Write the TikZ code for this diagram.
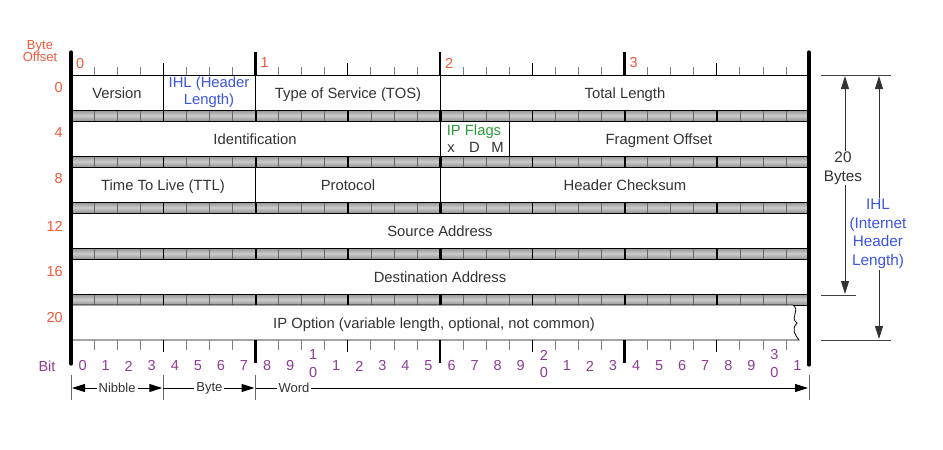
\documentclass[tikz,border=0pt]{standalone}
\usepackage{fontspec}
\setmainfont{Liberation Sans}
\usetikzlibrary{arrows.meta}
\definecolor{offc}{HTML}{EE5A3C}
\definecolor{ihlc}{HTML}{3C55E0}
\definecolor{bitc}{HTML}{8E3C96}
\definecolor{flagc}{HTML}{2E9B3A}
\definecolor{txtc}{HTML}{333333}
\begin{document}
\begin{tikzpicture}[x=1pt,y=-1pt,
  field/.style={font=\fontsize{14.8}{17}\selectfont, text=txtc, align=center, inner sep=0pt},
  bfield/.style={field, anchor=base},
  offlab/.style={font=\fontsize{14.5}{16}\selectfont, text=offc, inner sep=0pt},
  bitlab/.style={font=\fontsize{14.5}{15}\selectfont, text=bitc, inner sep=0pt},
  dimlab/.style={font=\fontsize{13}{14}\selectfont, text=txtc, fill=white, inner sep=2pt},
  sidelab/.style={font=\fontsize{15.3}{18.5}\selectfont, align=center, fill=white, inner sep=1pt},
  rowbox/.style={draw=black, line width=0.8pt, fill=white},
  divline/.style={draw=black, line width=1pt},
  border/.style={draw=black, line width=3.2pt, line cap=round},
  endarrow/.style={-{Stealth[length=13pt,width=8pt,inset=0pt]}},
  botharrow/.style={{Stealth[length=13pt,width=8pt,inset=0pt]}-{Stealth[length=13pt,width=8pt,inset=0pt]}},
  sideline/.style={draw=black!75, line width=1pt}
]
\useasboundingbox (0,0) rectangle (943,450);
\fill[white] (0,0) rectangle (943,450);
\def\W{23.0625}
% bands
\foreach \k in {0,...,4} {
  \pgfmathsetmacro\yt{110+46*\k}
  \shade[top color=gray!85, bottom color=gray!85, middle color=gray!40] (71,\yt) rectangle (809,\yt+11);
  \draw[black, line width=0.7pt] (71,\yt) -- (809,\yt) (71,\yt+11) -- (809,\yt+11);
  \foreach \b in {1,...,31} {
    \pgfmathtruncatemacro\mf{mod(\b,4)}
    \pgfmathtruncatemacro\me{mod(\b,8)}
    \pgfmathsetmacro\xb{71+\W*\b}
    \ifnum\b=16
      \draw[black, line width=3pt] (\xb,\yt) -- (\xb,\yt+11);
    \else\ifnum\me=0
      \draw[black, line width=2pt] (\xb,\yt) -- (\xb,\yt+11);
    \else\ifnum\mf=0
      \draw[black, line width=1.5pt] (\xb,\yt) -- (\xb,\yt+11);
    \else
      \draw[black!60, line width=0.6pt] (\xb,\yt) -- (\xb,\yt+11);
    \fi\fi\fi
  }
}
% rows
\foreach \k in {0,...,4} {
  \draw[rowbox] (71,75+46*\k) rectangle (809,110+46*\k);
}
% IP option row with torn edge
\draw[rowbox] (71,305) -- (793,305) .. controls (801,311) and (789,317) .. (797,323)
  .. controls (791,329) and (795,335) .. (799,340) -- (71,340) -- cycle;
% field dividers
\pgfmathsetmacro\xiv{71+\W*4}
\pgfmathsetmacro\xviii{71+\W*8}
\pgfmathsetmacro\xxvi{71+\W*16}
\pgfmathsetmacro\xxix{71+\W*19}
\draw[divline] (\xiv,75) -- (\xiv,110) (\xviii,75) -- (\xviii,110) (\xxvi,75) -- (\xxvi,110);
\draw[divline] (\xxvi,121) -- (\xxvi,156) (\xxix,121) -- (\xxix,156);
\draw[divline] (\xviii,167) -- (\xviii,202) (\xxvi,167) -- (\xxvi,202);
% rulers
\foreach \b in {1,...,31} {
  \pgfmathtruncatemacro\mf{mod(\b,4)}
  \pgfmathtruncatemacro\me{mod(\b,8)}
  \pgfmathsetmacro\xb{71+\W*\b}
  \ifnum\me=0
    \draw[black, line width=2.2pt] (\xb,52) -- (\xb,75);
    \draw[black, line width=2.2pt] (\xb,340) -- (\xb,363);
  \else\ifnum\mf=0
    \draw[black, line width=1.4pt] (\xb,63) -- (\xb,75);
    \draw[black, line width=1.4pt] (\xb,340) -- (\xb,352);
  \else
    \draw[black!50, line width=0.7pt] (\xb,67) -- (\xb,75);
    \draw[black!50, line width=0.7pt] (\xb,340) -- (\xb,350);
  \fi\fi
}
% borders
\draw[border] (71,52) -- (71,364);
\draw[border] (809,52) -- (809,365);
% byte offset labels
\node[offlab, font=\fontsize{13}{14}\selectfont, align=center] (byteoff) at (40,51) {Byte\\[-1.5pt]Offset};
\node[offlab, anchor=east] (o0) at (63,88) {0};
\node[offlab, anchor=east] (o4) at (63,133) {4};
\node[offlab, anchor=east] (o8) at (63,179) {8};
\node[offlab, anchor=east] (o12) at (63,226) {12};
\node[offlab, anchor=east] (o16) at (63,272) {16};
\node[offlab, anchor=east] (o20) at (63,318) {20};
\node[offlab, anchor=west] (t0) at (76,64) {0};
\node[offlab, anchor=west] (t1) at (\xviii+5,63) {1};
\node[offlab, anchor=west] (t2) at (\xxvi+5,63) {2};
\node[offlab, anchor=west] (t3) at (71+\W*24+5,63) {3};
% fields
\node[bfield] (version) at (117,98) {Version};
\node[field, text=ihlc] (ihl) at (209,92.5) {IHL (Header\\Length)};
\node[bfield] (tos) at (348,98) {Type of Service (TOS)};
\node[bfield] (totlen) at (625,98) {Total Length};
\node[bfield] (ident) at (255,144) {Identification};
\node[bfield, text=flagc] (flags) at (474,135) {IP Flags};
\node[bfield] (fx) at (451,152) {x};
\node[bfield] (fd) at (474.5,152) {D};
\node[bfield] (fm) at (497.5,152) {M};
\node[bfield] (fragoff) at (659,144) {Fragment Offset};
\node[bfield] (ttl) at (163,190) {Time To Live (TTL)};
\node[bfield] (proto) at (348,190) {Protocol};
\node[bfield] (chk) at (625,190) {Header Checksum};
\node[bfield] (src) at (440,236) {Source Address};
\node[bfield] (dst) at (440,282) {Destination Address};
\node[bfield] (opt) at (434,328) {IP Option (variable length, optional, not common)};
% bit labels
\node[bitlab] (bitword) at (47,366) {Bit};
\foreach \t [count=\i from 0] in {0,1,2,3,4,5,6,7,8,9,X,1,2,3,4,5,6,7,8,9,Y,1,2,3,4,5,6,7,8,9,Z,1} {
  \pgfmathsetmacro\xc{71+\W*(\i+0.5)}
  \if\t X
    \node[bitlab] (bit\i a) at (\xc,355) {1};
    \node[bitlab] (bit\i) at (\xc,373) {0};
  \else\if\t Y
    \node[bitlab] (bit\i a) at (\xc,355) {2};
    \node[bitlab] (bit\i) at (\xc,373) {0};
  \else\if\t Z
    \node[bitlab] (bit\i a) at (\xc,355) {3};
    \node[bitlab] (bit\i) at (\xc,373) {0};
  \else
    \node[bitlab] (bit\i) at (\xc,366) {\t};
  \fi\fi\fi
}
% dimension lines
\coordinate (d0) at (71,388);
\coordinate (d4) at (\xiv,388);
\coordinate (d8) at (\xviii,388);
\coordinate (d32) at (809,388);
\foreach \c in {d0,d4,d8,d32} \draw[black!60, line width=1pt] (\c) ++(0,-13) -- ++(0,25);
\draw[botharrow, line width=1pt, shorten <=1pt, shorten >=1pt] (d0) -- (d4) node[dimlab, midway] (nib) {Nibble};
\draw[endarrow, line width=1pt, shorten >=1pt] (d4) -- (d8) node[dimlab, midway] (byt) {Byte};
\draw[endarrow, line width=1pt, shorten >=1pt] (d8) -- (d32);
\node[dimlab] (wrd) at (294,388) {Word};
% right side
\coordinate (ra) at (821,75);
\coordinate (rb) at (891,75);
\coordinate (rc) at (821,295);
\coordinate (rd) at (856,295);
\coordinate (re) at (821,340);
\coordinate (rf) at (891,340);
\draw[sideline] (ra) -- (rb);
\draw[sideline] (rc) -- (rd);
\draw[sideline] (re) -- (rf);
\coordinate (b20t) at (845,76);
\coordinate (b20b) at (845,294);
\coordinate (ihlt) at (879,76);
\coordinate (ihlb) at (879,339);
\draw[botharrow, black!80, line width=1pt] (b20t) -- (b20b);
\draw[botharrow, black!80, line width=1pt] (ihlt) -- (ihlb);
\node[sidelab, text=txtc] (bytes20) at (843,168) {20\\Bytes};
\node[sidelab, text=ihlc] (ihlside) at (878,234) {IHL\\(Internet\\Header\\Length)};
\end{tikzpicture}
\end{document}
